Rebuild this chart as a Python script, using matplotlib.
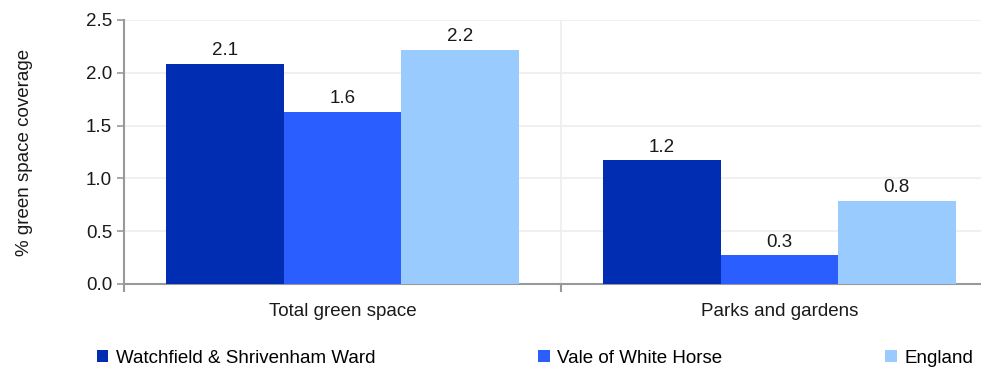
import matplotlib.pyplot as plt
import numpy as np

plt.rcParams['font.family'] = ['Liberation Sans', 'DejaVu Sans']

# data
categories = ["Total green space", "Parks and gardens"]
series_names = ["Watchfield & Shrivenham Ward", "Vale of White Horse", "England"]
ward_vals = [2.08, 1.17]
vale_vals = [1.63, 0.27]
england_vals = [2.22, 0.79]
ward_labels = ["2.1", "1.2"]
vale_labels = ["1.6", "0.3"]
england_labels = ["2.2", "0.8"]

colors = ["#002db1", "#2b5eff", "#99cbff"]
fs = 13.5

fig = plt.figure(figsize=(9.81, 3.68), dpi=100)
ax = fig.add_axes([124 / 981, 1 - 284 / 368, 1 - 124 / 981, 264 / 368])

x = np.arange(len(categories))
w = 0.2685
all_vals = [ward_vals, vale_vals, england_vals]
all_labels = [ward_labels, vale_labels, england_labels]
for i, (vals, labs) in enumerate(zip(all_vals, all_labels)):
    pos = x + (i - 1) * w
    bars = ax.bar(pos, vals, width=w, color=colors[i], label=series_names[i], zorder=3)
    for b, lab in zip(bars, labs):
        ax.annotate(lab, (b.get_x() + b.get_width() / 2, b.get_height()),
                    xytext=(0, 3.5), textcoords="offset points",
                    ha="center", va="bottom", fontsize=fs, color="#1a1a1a")

ax.set_ylim(0, 2.5)
ax.set_xlim(-0.5, 1.5 - 17 / 437)
ax.set_yticks(np.arange(0, 2.51, 0.5))
ax.set_yticklabels([f"{v:.1f}" for v in np.arange(0, 2.51, 0.5)])
ax.set_xticks(x)
ax.set_xticklabels(categories)
ax.set_xticks([-0.5, 0.5], minor=True)
ax.tick_params(axis="x", which="major", length=0, pad=14, labelsize=fs, labelcolor="#1a1a1a")
ax.tick_params(axis="x", which="minor", length=6, width=1.5, color="#999999")
ax.tick_params(axis="y", length=5, width=1.2, color="#999999", labelsize=fs, labelcolor="#1a1a1a")

ax.grid(axis="y", color="#eeeeee", linewidth=1.2, zorder=0)
ax.axvline(0.5, color="#eeeeee", linewidth=1.2, zorder=0)

for s in ["top", "right"]:
    ax.spines[s].set_visible(False)
for s in ["left", "bottom"]:
    ax.spines[s].set_color("#999999")
    ax.spines[s].set_linewidth(1.5)

ax.set_ylabel("% green space coverage", fontsize=fs, color="#1a1a1a")
ax.yaxis.set_label_coords((33 - 124) / 857, 0.5)

fig.legend(loc="center left", bbox_to_anchor=(97 / 981, 0.027, 876 / 981, 0),
           mode="expand", ncol=3, frameon=False, fontsize=fs,
           handlelength=0.6, handleheight=0.6, handletextpad=0.4, borderaxespad=0,
           borderpad=0)

fig.savefig("out.png", dpi=100)
